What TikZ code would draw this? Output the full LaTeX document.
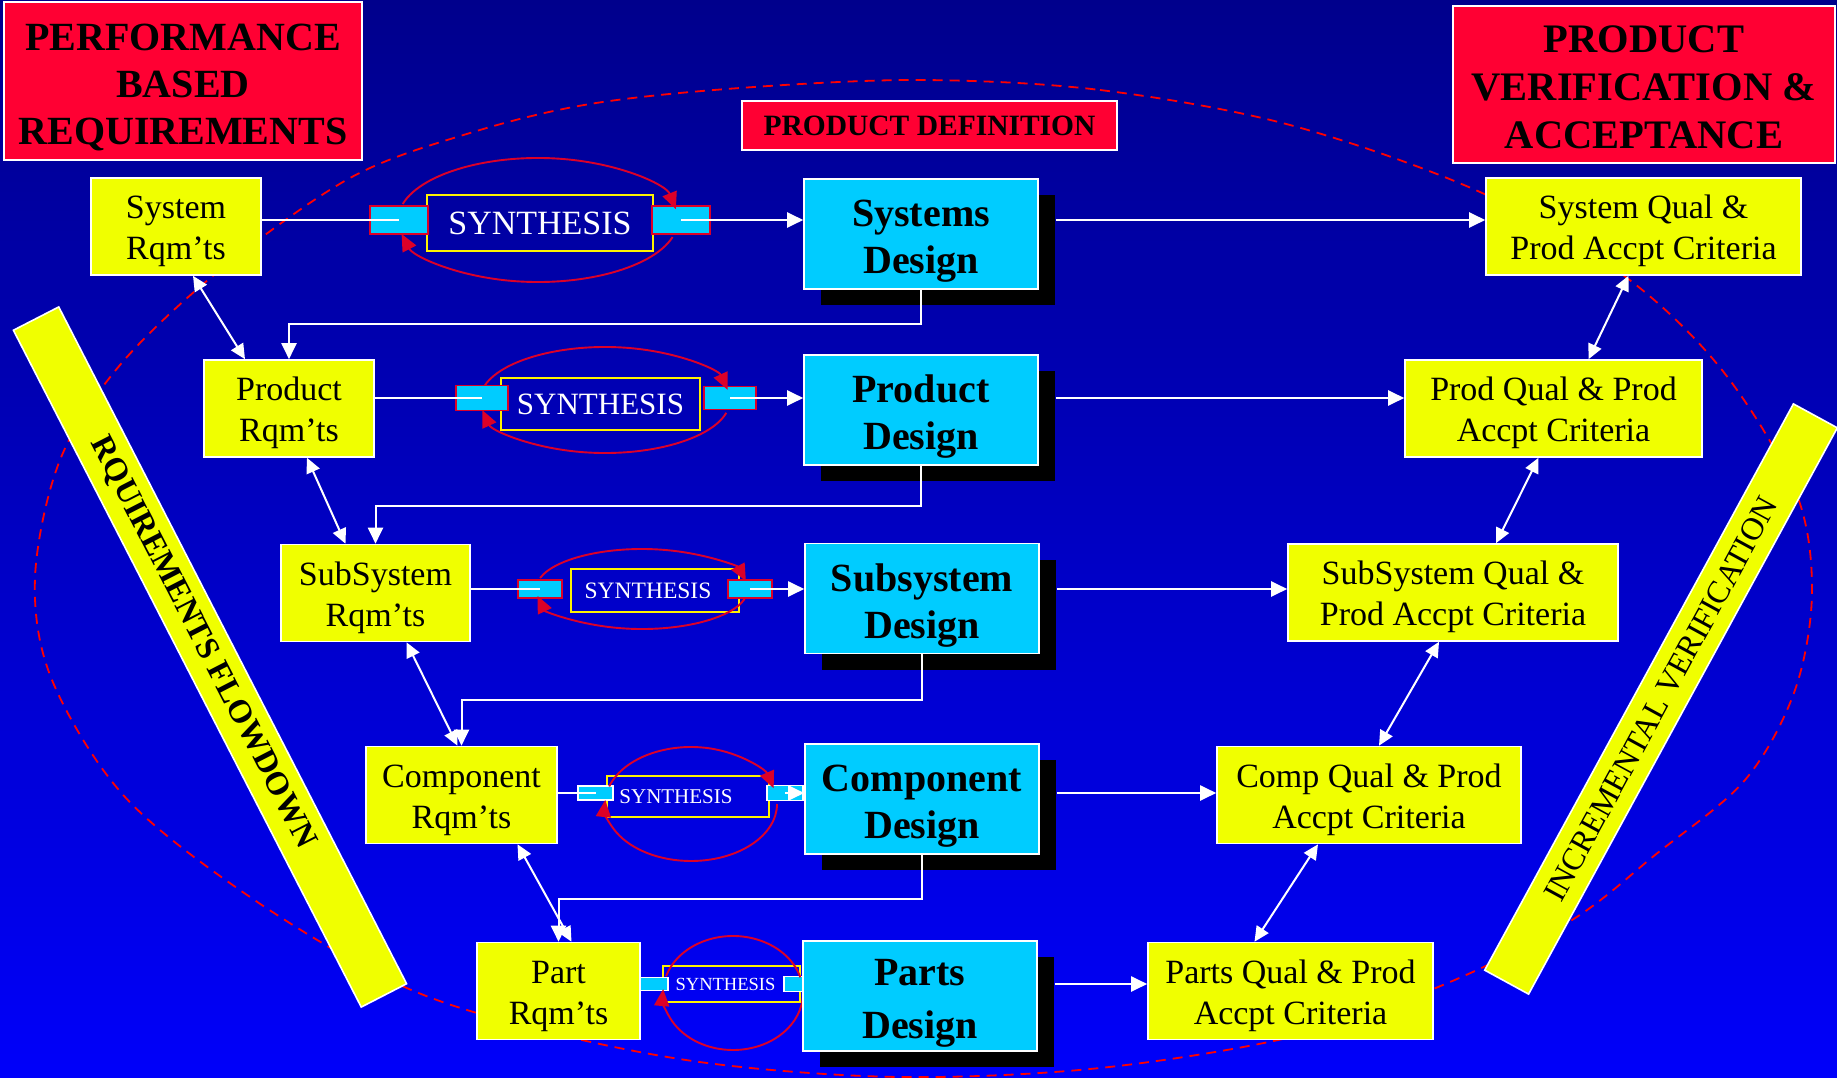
\documentclass[tikz,border=0pt]{standalone}
\usepackage{fontspec}
\setmainfont{Liberation Serif}
\usetikzlibrary{arrows.meta,shadows,calc}
\definecolor{bgtop}{RGB}{0,0,140}
\definecolor{bgbot}{RGB}{0,0,250}
\definecolor{boxred}{RGB}{255,0,51}
\definecolor{boxyellow}{RGB}{240,255,0}
\definecolor{boxcyan}{RGB}{0,204,255}
\definecolor{arcred}{RGB}{220,0,40}

\begin{document}
\begin{tikzpicture}[x=1pt, y=1pt,
  titlebox/.style={draw=white, line width=1.6pt, fill=boxred, align=center, inner sep=0pt},
  reqbox/.style={draw=white, line width=1.6pt, fill=boxyellow, align=center, inner sep=0pt, minimum height=97pt, font=\fontsize{34}{41}\selectfont, text height=74pt},
  designbox/.style={draw=white, line width=1.6pt, fill=boxcyan, align=center, inner sep=0pt, minimum width=234pt, minimum height=110pt, font=\fontsize{40}{47}\selectfont\bfseries, text height=88pt, drop shadow={shadow xshift=17pt, shadow yshift=-16pt, opacity=1, fill=black}},
  synbox/.style={draw=yellow, line width=1.6pt, text=white, inner sep=0pt},
  port/.style={draw=arcred, line width=1.6pt, fill=boxcyan, inner sep=0pt},
  whiteport/.style={port, draw=white},
  band/.style={draw=white, line width=1.6pt, fill=boxyellow, inner sep=0pt, minimum height=51pt},
  wire/.style={draw=white, line width=2pt},
  flow/.style={wire, -{Triangle[length=16pt, width=15pt]}},
  dflow/.style={wire, {Triangle[length=15pt, width=14pt]}-{Triangle[length=15pt, width=14pt]}},
  synarc/.style={draw=arcred, line width=1.9pt, -{Triangle[length=17pt, width=15pt]}},
  loopline/.style={draw=red, line width=1.8pt, dash pattern=on 10pt off 7pt}]

  \useasboundingbox (0,0) rectangle (1837,-1078);
  \shade[top color=bgtop, bottom color=bgbot] (0,0) rectangle (1837,-1078);

  % dashed loop round the whole flow
  \draw[loopline] plot[smooth cycle, tension=0.55] coordinates {
    (920,-80) (1100,-90) (1290,-125) (1480,-192) (1623,-275) (1722,-370)
    (1795,-490) (1812,-590) (1795,-690) (1745,-780) (1655,-855) (1572,-920)
    (1450,-982) (1300,-1035) (1100,-1068) (900,-1077) (707,-1063) (540,-1030)
    (400,-985) (250,-897) (125,-797) (52,-680) (35,-578) (60,-460)
    (120,-365) (220,-270) (350,-178) (470,-133) (590,-104) (740,-88)};

  % side bands
  \node[band, minimum width=761pt, rotate=-62.8, font=\fontsize{32.5}{38}\selectfont\bfseries] (flowdown) at (210,-657) {RQUIREMENTS FLOWDOWN\hspace*{32pt}};
  \node[band, minimum width=645pt, minimum height=50pt, rotate=61.4, font=\fontsize{32}{36}\selectfont] (incver) at (1661,-699) {INCREMENTAL VERIFICATION};

  % titles
  \node[titlebox, minimum width=358pt, minimum height=158pt, font=\fontsize{40}{47}\selectfont\bfseries] (perf) at (183,-81) {\rule{0pt}{40pt}PERFORMANCE\\BASED\\REQUIREMENTS};
  \node[titlebox, minimum width=382pt, minimum height=157pt, font=\fontsize{40.5}{48}\selectfont\bfseries] (prodver) at (1644,-84.5) {\rule{0pt}{32pt}PRODUCT\\VERIFICATION \&\\ACCEPTANCE};
  \node[titlebox, minimum width=375pt, minimum height=49pt, font=\fontsize{29.5}{34}\selectfont\bfseries] (proddef) at (929.5,-125.5) {PRODUCT DEFINITION};

  % requirement boxes
  \node[reqbox, minimum width=170pt] (sysrq) at (176,-226.5) {System\\Rqm’ts};
  \node[reqbox, minimum width=170pt] (prodrq) at (289,-408.5) {Product\\Rqm’ts};
  \node[reqbox, minimum width=189pt] (subrq) at (375.5,-593) {SubSystem\\Rqm’ts};
  \node[reqbox, minimum width=191pt] (comprq) at (461.5,-795) {Component\\Rqm’ts};
  \node[reqbox, minimum width=163pt] (partrq) at (558.5,-991) {Part\\Rqm’ts};

  % qualification boxes
  \node[reqbox, minimum width=315pt] (sysqa) at (1643.5,-226.5) {System Qual \&\\Prod Accpt Criteria};
  \node[reqbox, minimum width=297pt] (prodqa) at (1553.5,-408.5) {Prod Qual \& Prod\\Accpt Criteria};
  \node[reqbox, minimum width=330pt] (subqa) at (1453,-592.5) {SubSystem Qual \&\\Prod Accpt Criteria};
  \node[reqbox, minimum width=304pt] (compqa) at (1369,-795) {Comp Qual \& Prod\\Accpt Criteria};
  \node[reqbox, minimum width=285pt] (partqa) at (1290.5,-991) {Parts Qual \& Prod\\Accpt Criteria};

  % synthesis loops
  \node[synbox, minimum width=226pt, minimum height=56pt, font=\fontsize{34}{40}\selectfont] (syn1) at (540,-223) {SYNTHESIS};
  \node[port, minimum width=58pt, minimum height=28pt] (in1) at (399,-220) {};
  \node[port, minimum width=58pt, minimum height=28pt] (out1) at (681,-220) {};
  \coordinate (e1) at (538,-220);
  \draw[synarc] (e1) ++(165:140 and 62) arc[start angle=165, end angle=10, x radius=140, y radius=62];
  \draw[synarc] (e1) ++(-16:140 and 62) arc[start angle=-16, end angle=-167, x radius=140, y radius=62];

  \node[synbox, minimum width=199pt, minimum height=52pt, font=\fontsize{31}{36}\selectfont] (syn2) at (600.5,-404) {SYNTHESIS};
  \node[port, minimum width=52pt, minimum height=25pt] (in2) at (482,-398) {};
  \node[port, minimum width=52pt, minimum height=23pt] (out2) at (730,-398) {};
  \coordinate (e2) at (605,-400);
  \draw[synarc] (e2) ++(164:125 and 53) arc[start angle=164, end angle=11, x radius=125, y radius=53];
  \draw[synarc] (e2) ++(-14:125 and 53) arc[start angle=-14, end angle=-169, x radius=125, y radius=53];

  \node[synbox, minimum width=168pt, minimum height=43pt, font=\fontsize{23.5}{28}\selectfont] (syn3) at (655,-590.5) {SYNTHESIS\hspace*{14pt}};
  \node[port, minimum width=44pt, minimum height=18pt] (in3) at (540,-589) {};
  \node[port, minimum width=44pt, minimum height=18pt] (out3) at (750,-589) {};
  \coordinate (e3) at (642,-589);
  \draw[synarc] (e3) ++(164:106 and 40) arc[start angle=164, end angle=11.5, x radius=106, y radius=40];
  \draw[synarc] (e3) ++(-14.5:106 and 40) arc[start angle=-14.5, end angle=-170, x radius=106, y radius=40];

  \node[synbox, minimum width=162pt, minimum height=41pt, font=\fontsize{21}{25}\selectfont] (syn4) at (688,-796.5) {SYNTHESIS\hspace*{24pt}};
  \node[whiteport, minimum width=35pt, minimum height=14pt] (in4) at (595.5,-793) {};
  \node[whiteport, minimum width=36pt, minimum height=15pt] (out4) at (785,-793) {};
  \coordinate (e4) at (691,-804);
  \draw[synarc] (e4) ++(162:86 and 57) arc[start angle=162, end angle=16, x radius=86, y radius=57];
  \draw[synarc] (e4) ++(0:86 and 57) arc[start angle=0, end angle=-184, x radius=86, y radius=57];

  \node[synbox, minimum width=137pt, minimum height=36pt, font=\fontsize{18.5}{22}\selectfont] (syn5) at (731.5,-984) {SYNTHESIS\hspace*{12pt}};
  \node[whiteport, minimum width=28pt, minimum height=13pt] (in5) at (654,-984) {};
  \node[whiteport, minimum width=19pt, minimum height=15pt] (out5) at (793.5,-984) {};
  \coordinate (e5) at (733,-993);
  \draw[synarc, -] (e5) ++(163:70 and 57) arc[start angle=163, end angle=16, x radius=70, y radius=57];
  \draw[synarc] (e5) ++(0:70 and 57) arc[start angle=0, end angle=-184, x radius=70, y radius=57];

  % design boxes
  \node[designbox] (sysds) at (921,-234) {Systems\\Design};
  \node[designbox] (prodds) at (921,-410) {Product\\Design};
  \node[designbox] (subds) at (922,-598.5) {Subsystem\\Design};
  \node[designbox] (compds) at (922,-799) {Component\\Design};
  \node[designbox, font=\fontsize{40}{53}\selectfont\bfseries, text height=94pt] (partds) at (920,-996) {Parts\\Design};

  % requirements into synthesis, synthesis into design
  \draw[wire] (sysrq.east |- in1) -- (in1.center);
  \draw[flow] (out1.center) -- (out1 -| sysds.west);
  \draw[wire] (prodrq.east |- in2) -- (in2.center);
  \draw[flow] (out2.center) -- (out2 -| prodds.west);
  \draw[wire] (subrq.east |- in3) -- (in3.center);
  \draw[flow] (out3.center) -- (out3 -| subds.west);
  \draw[wire] (comprq.east |- in4) -- (in4.center);
  \draw[flow] (out4.center) -- (out4 -| compds.west);

  % design to qualification
  \draw[flow] ([xshift=17pt]sysds.east |- out1) -- (out1 -| sysqa.west);
  \draw[flow] ([xshift=17pt]prodds.east |- out2) -- (out2 -| prodqa.west);
  \draw[flow] ([xshift=17pt]subds.east |- out3) -- (out3 -| subqa.west);
  \draw[flow] ([xshift=17pt]compds.east |- out4) -- (out4 -| compqa.west);
  \draw[flow] ([xshift=17pt]partds.east |- out5) -- (out5 -| partqa.west);

  % design feeds next level requirements
  \draw[flow] (sysds.south) -- ++(0,-34) -| (prodrq.north);
  \draw[flow] (prodds.south) -- ++(0,-40) -| (subrq.north);
  \draw[flow] (subds.south) -- ++(0,-46) -| (comprq.north);
  \draw[flow] (compds.south) -- ++(0,-44) -| (partrq.north);

  % flowdown between requirement levels
  \draw[dflow] ([xshift=17pt]sysrq.south) -- ([xshift=-44pt]prodrq.north);
  \draw[dflow] ([xshift=18pt]prodrq.south) -- ([xshift=-30pt]subrq.north);
  \draw[dflow] ([xshift=31pt]subrq.south) -- ([xshift=-4pt]comprq.north);
  \draw[dflow] ([xshift=56pt]comprq.south) -- ([xshift=13pt]partrq.north);

  % verification between qualification levels
  \draw[dflow] ([xshift=-15pt]sysqa.south) -- ([xshift=35pt]prodqa.north);
  \draw[dflow] ([xshift=-15pt]prodqa.south) -- ([xshift=43pt]subqa.north);
  \draw[dflow] ([xshift=-14pt]subqa.south) -- ([xshift=10pt]compqa.north);
  \draw[dflow] ([xshift=-51pt]compqa.south) -- ([xshift=-36pt]partqa.north);
\end{tikzpicture}
\end{document}
